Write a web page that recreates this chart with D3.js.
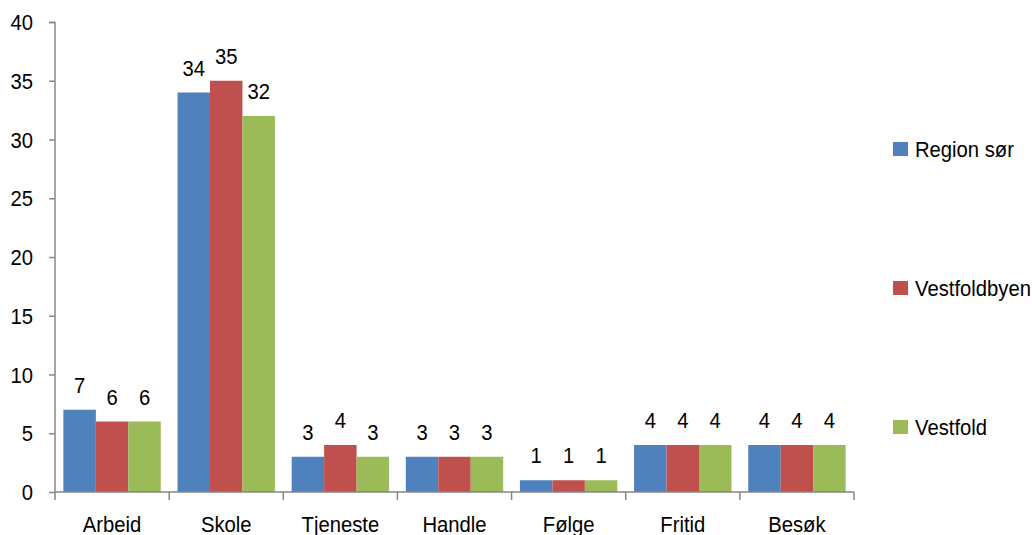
<!DOCTYPE html>
<html><head><meta charset="utf-8">
<script src="https://cdn.jsdelivr.net/npm/d3@7"></script>
<style>body{margin:0;background:#fff}svg{display:block}text{font-family:"Liberation Sans",Arial,sans-serif;fill:#000}</style>
</head><body>
<script>
const categories = ["Arbeid","Skole","Tjeneste","Handle","Følge","Fritid","Besøk"];
const seriesNames = ["Region sør","Vestfoldbyen","Vestfold"];
const regionSor = [7,34,3,3,1,4,4];
const vestfoldbyen = [6,35,4,3,1,4,4];
const vestfold = [6,32,3,3,1,4,4];
const yTicks = [0,5,10,15,20,25,30,35,40];
const colors = ["#4F81BD","#C0504D","#9BBB59"];
const seriesVals = [regionSor, vestfoldbyen, vestfold];

const W=1032,H=535, FS=22.5, SX=0.9;
const svg=d3.select("body").append("svg").attr("width",W).attr("height",H);
const x=d3.scaleBand().domain(categories).range([55,854]).paddingInner(0).paddingOuter(0);
const inner=d3.scaleBand().domain(d3.range(3)).range([0,x.bandwidth()]).paddingOuter(0.258).paddingInner(0);
const y=d3.scaleLinear().domain([0,40]).range([492,22]);

function txt(g,xp,yp,s,anchor){
  const gg=g.append("g").attr("transform",`translate(${xp},${yp}) scale(${SX},1)`);
  gg.append("text").attr("font-size",FS).attr("text-anchor",anchor||"middle").text(s);
}

// bars
seriesVals.forEach((vals,si)=>{
  svg.append("g").selectAll("rect").data(vals).join("rect")
    .attr("x",(d,i)=>x(categories[i])+inner(si))
    .attr("width",inner.bandwidth())
    .attr("y",d=>y(d)).attr("height",d=>y(0)-y(d))
    .attr("fill",colors[si]);
  const lg=svg.append("g");
  vals.forEach((d,i)=>txt(lg,x(categories[i])+inner(si)+inner.bandwidth()/2,y(d)-17,d,"middle"));
});

// y axis
const ya=svg.append("g").attr("transform","translate(55,0)")
  .call(d3.axisLeft(y).tickValues(yTicks).tickSize(6).tickFormat(""));
ya.select(".domain").attr("stroke","#868686").attr("stroke-width",1.5).attr("d","M-6,22.5H0V492");
ya.selectAll(".tick line").attr("stroke","#868686").attr("stroke-width",1.5);
const yl=svg.append("g");
yTicks.forEach(t=>txt(yl,33,y(t)+8,t,"end"));

// x axis
const xa=svg.append("g").attr("transform","translate(0,492)");
xa.append("line").attr("x1",55).attr("x2",854).attr("stroke","#868686").attr("stroke-width",1.5);
const edges=categories.map(c=>x(c)).concat([x.range()[1]]);
xa.selectAll(".xt").data(edges).join("line").attr("class","xt")
  .attr("x1",d=>d).attr("x2",d=>d).attr("y1",0).attr("y2",8)
  .attr("stroke","#868686").attr("stroke-width",1.5);
const xl=svg.append("g");
categories.forEach(c=>txt(xl,x(c)+x.bandwidth()/2,532,c,"middle"));

// legend
const legY=[149,288,427];
const lgd=svg.append("g");
seriesNames.forEach((n,i)=>{
  lgd.append("rect").attr("x",893).attr("y",legY[i]-7).attr("width",15).attr("height",14).attr("fill",colors[i]);
  txt(lgd,915,legY[i]+8,n,"start");
});
</script>
</body></html>
